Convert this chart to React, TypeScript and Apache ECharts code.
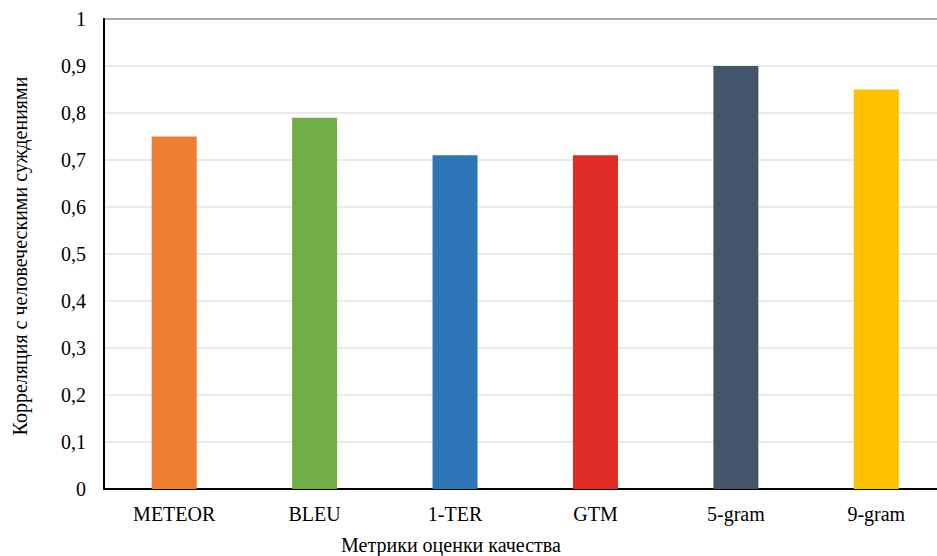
import React, { useEffect, useRef } from "react";
import * as echarts from "echarts";

const categories = ["METEOR", "BLEU", "1-TER", "GTM", "5-gram", "9-gram"];
const correlations = [0.75, 0.79, 0.71, 0.71, 0.9, 0.85];
const barColors = ["#ED7D31", "#70AD47", "#2E75B6", "#E02B27", "#44546A", "#FFC000"];
const yAxisTitle = "Корреляция с человеческими суждениями";
const xAxisTitle = "Метрики оценки качества";

const FONT = "'Liberation Serif', 'Times New Roman', serif";
const FS = 20;

export default function App() {
  const ref = useRef<HTMLDivElement>(null);

  useEffect(() => {
    if (!ref.current) return;
    const chart = echarts.init(ref.current, undefined, { renderer: "svg" });
    chart.setOption({
      animation: false,
      backgroundColor: "#ffffff",
      textStyle: { fontFamily: FONT },
      grid: {
        left: 104,
        right: -9.5,
        top: 19,
        bottom: 67,
        outerBoundsMode: "none",
        containLabel: false,
        show: true,
        borderColor: "#000000",
        borderWidth: 2,
      },
      xAxis: {
        type: "category",
        data: categories,
        axisLine: { show: true, lineStyle: { color: "#000000", width: 2 } },
        axisTick: { show: false },
        axisLabel: {
          color: "#000000",
          fontFamily: FONT,
          fontSize: FS,
          margin: 15,
        },
      },
      yAxis: {
        type: "value",
        min: 0,
        max: 1,
        interval: 0.1,
        axisLine: { show: true, lineStyle: { color: "#000000", width: 2 } },
        axisTick: { show: false },
        splitLine: { show: true, lineStyle: { color: "#E3E3E3", width: 1.5 } },
        axisLabel: {
          color: "#000000",
          fontFamily: FONT,
          fontSize: FS,
          margin: 18,
          formatter: (v: number) => {
            const s = Number(v.toFixed(1));
            return s === 0 || s === 1 ? String(s) : s.toFixed(1).replace(".", ",");
          },
        },
      },
      series: [
        {
          type: "bar",
          data: correlations.map((v, i) => ({
            value: v,
            itemStyle: { color: barColors[i] },
          })),
          barWidth: 45,
        },
      ],
      graphic: [
        {
          type: "text",
          x: 20,
          y: 256,
          rotation: Math.PI / 2,
          style: {
            text: yAxisTitle,
            fill: "#000000",
            fontFamily: FONT,
            fontSize: FS,
            align: "center",
            verticalAlign: "middle",
          },
        },
        {
          type: "text",
          x: 451,
          y: 545,
          style: {
            text: xAxisTitle,
            fill: "#000000",
            fontFamily: FONT,
            fontSize: FS,
            align: "center",
            verticalAlign: "middle",
          },
        },
      ],
    });
    return () => chart.dispose();
  }, []);

  return (
    <div
      ref={ref}
      style={{
        position: "fixed",
        left: 0,
        top: 0,
        width: 937,
        height: 556,
        overflow: "hidden",
        background: "#ffffff",
      }}
    />
  );
}
